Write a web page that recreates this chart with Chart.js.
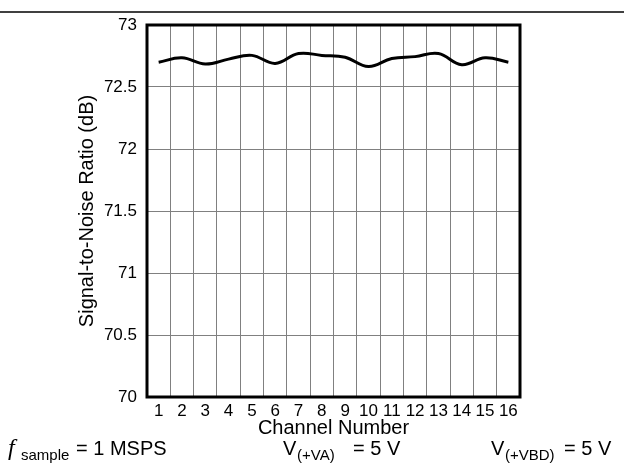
<!DOCTYPE html>
<html>
<head>
<meta charset="utf-8">
<script src="https://cdn.jsdelivr.net/npm/chart.js@4/dist/chart.umd.min.js"></script>
<style>
  html, body { margin: 0; padding: 0; background: #fff; }
  #wrap { width: 624px; height: 470px; position: relative; }
</style>
</head>
<body>
<div id="wrap"><canvas id="snrChart"></canvas></div>
<script>
// channel numbers on the x axis
const channels = ['1', '2', '3', '4', '5', '6', '7', '8', '9', '10', '11', '12', '13', '14', '15', '16'];
// SNR (dB)
const snrValues = [72.70, 72.735, 72.685, 72.725, 72.755, 72.69, 72.77, 72.755, 72.74, 72.665, 72.73, 72.745, 72.77, 72.68, 72.735, 72.70];
// y axis range and step
const yMin = 70;
const yMax = 73;
const yStep = 0.5;

const FONT = '"Liberation Sans", Arial, sans-serif';

// draws the frame, the rule on top and the notes under the chart
const extrasPlugin = {
  id: 'extras',
  afterDraw(chart) {
    const ctx = chart.ctx;
    const a = chart.chartArea;
    ctx.save();
    // plot frame
    ctx.strokeStyle = '#000';
    ctx.lineWidth = 3;
    ctx.strokeRect(a.left, a.top, a.right - a.left, a.bottom - a.top);
    // rule at the top of the page
    ctx.lineWidth = 1.5;
    ctx.beginPath();
    ctx.moveTo(0, 12);
    ctx.lineTo(624, 12);
    ctx.stroke();

    // conditions under the axis
    ctx.fillStyle = '#000';
    ctx.textBaseline = 'alphabetic';
    ctx.textAlign = 'left';
    ctx.font = 'italic 24px "Liberation Serif", serif';
    ctx.fillText('f', 8, 455);
    ctx.font = '15px ' + FONT;
    ctx.fillText('sample', 21, 460);
    ctx.font = '20px ' + FONT;
    ctx.fillText('= 1 MSPS', 76, 455);

    ctx.fillText('V', 283, 455);
    ctx.font = '15px ' + FONT;
    ctx.fillText('(+VA)', 297, 460);
    ctx.font = '20px ' + FONT;
    ctx.fillText('= 5 V', 353, 455);

    ctx.fillText('V', 491, 455);
    ctx.font = '15px ' + FONT;
    ctx.fillText('(+VBD)', 505, 460);
    ctx.font = '20px ' + FONT;
    ctx.fillText('= 5 V', 564, 455);
    ctx.restore();
  }
};

function init() {
  const ctx = document.getElementById('snrChart').getContext('2d');
  new Chart(ctx, {
    type: 'line',
    data: {
      labels: channels,
      datasets: [{
        label: 'SNR',
        data: snrValues,
        borderColor: '#000',
        borderWidth: 3,
        pointRadius: 0,
        tension: 0.4,
        fill: false
      }]
    },
    options: {
      responsive: true,
      maintainAspectRatio: false,
      animation: false,
      layout: { padding: { top: 25, right: 104, bottom: 30, left: 0 } },
      plugins: {
        legend: { display: false },
        tooltip: { enabled: false }
      },
      scales: {
        x: {
          type: 'category',
          offset: true,
          grid: { offset: true, color: '#808080', lineWidth: 1, drawTicks: false },
          border: { display: false },
          ticks: { color: '#000', padding: 4, maxRotation: 0, autoSkip: false, font: { family: FONT, size: 17 } },
          title: { display: true, text: 'Channel Number', color: '#000', padding: { top: 0, bottom: 0 }, font: { family: FONT, size: 20 } },
          afterFit(scale) { scale.height = 43; }
        },
        y: {
          min: yMin,
          max: yMax,
          grid: { color: '#808080', lineWidth: 1, drawTicks: false },
          border: { display: false },
          ticks: {
            stepSize: yStep, color: '#000', padding: 10, font: { family: FONT, size: 17 },
            callback: (v) => String(Math.round(v * 10) / 10)
          },
          title: { display: true, text: 'Signal-to-Noise Ratio (dB)', color: '#000', padding: { top: 75, bottom: 0 }, font: { family: FONT, size: 20 } },
          afterFit(scale) { scale.width = 147; }
        }
      }
    },
    plugins: [extrasPlugin]
  });
}

document.addEventListener('DOMContentLoaded', init);
</script>
</body>
</html>
